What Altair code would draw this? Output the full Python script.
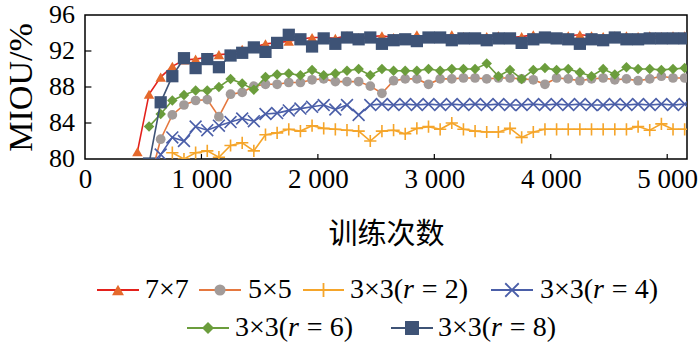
import altair as alt
import pandas as pd

# ---------------- data ----------------
iterations = [450, 550, 650, 750, 850, 950, 1050, 1150, 1250, 1350, 1450, 1550,
              1650, 1750, 1850, 1950, 2050, 2150, 2250, 2350, 2450, 2550, 2650, 2750,
              2850, 2950, 3050, 3150, 3250, 3350, 3450, 3550, 3650, 3750, 3850, 3950,
              4050, 4150, 4250, 4350, 4450, 4550, 4650, 4750, 4850, 4950, 5050, 5150]

s7x7 = [80.8, 87.2, 89.1, 90.3, 91.0, 91.1, 91.3, 91.6, 91.7, 92.2, 92.4, 92.8,
        92.9, 93.1, 93.3, 93.5, 93.5, 93.4, 93.7, 93.5, 93.6, 93.7, 93.5, 93.4,
        93.8, 93.4, 93.6, 93.8, 93.6, 93.5, 93.6, 93.7, 93.5, 93.6, 93.8, 93.6,
        93.5, 93.7, 93.8, 93.7, 93.6, 93.7, 93.7, 93.6, 93.7, 93.6, 93.7, 93.7]

s5x5 = [None, 77.3, 82.2, 84.9, 86.0, 86.5, 86.6, 84.7, 87.2, 87.4, 88.1, 88.3,
        88.3, 88.5, 88.5, 88.8, 88.9, 88.6, 88.6, 88.6, 88.1, 87.3, 88.7, 88.9,
        88.9, 88.3, 88.9, 88.9, 89.0, 89.0, 88.9, 89.0, 89.0, 88.9, 88.8, 88.3,
        89.0, 88.9, 88.7, 88.9, 89.0, 88.8, 88.9, 88.7, 88.9, 89.2, 89.0, 89.0]

s_r2 = [None, None, None, 80.7, 80.0, 80.7, 80.9, 80.2, 81.5, 81.8, 80.9, 82.7,
        82.9, 83.3, 83.1, 83.7, 83.4, 83.3, 83.2, 83.1, 82.0, 83.1, 83.2, 82.8,
        83.4, 83.6, 83.3, 84.0, 83.3, 83.1, 83.0, 83.0, 83.4, 82.4, 83.0, 83.3,
        83.3, 83.3, 83.3, 83.3, 83.3, 83.3, 83.3, 83.6, 83.2, 83.9, 83.3, 83.3]

s_r4 = [None, 77.0, 80.5, 82.4, 82.0, 83.6, 83.2, 83.7, 84.1, 84.5, 84.2, 85.0,
        85.1, 85.4, 85.6, 85.8, 86.0, 85.5, 86.0, 84.9, 86.0, 86.1, 86.0, 86.1,
        86.0, 86.1, 86.0, 86.1, 86.0, 86.1, 86.0, 86.1, 86.0, 86.0, 86.1, 86.0,
        86.1, 86.0, 86.1, 86.0, 86.0, 86.1, 86.0, 86.1, 86.0, 86.1, 86.0, 86.1]

s_r6 = [None, 83.6, 85.0, 86.5, 87.1, 87.6, 87.6, 88.0, 88.9, 88.4, 87.7, 89.1,
        89.4, 89.5, 89.3, 89.9, 89.3, 89.5, 89.8, 90.0, 89.3, 90.0, 89.8, 89.8,
        89.8, 90.0, 89.8, 90.0, 90.0, 90.0, 90.6, 89.2, 89.9, 88.9, 89.9, 90.1,
        89.9, 90.0, 89.6, 89.2, 90.0, 89.4, 90.2, 90.0, 90.0, 89.9, 90.0, 90.1]

s_r8 = [None, 79.5, 86.3, 89.2, 91.2, 90.1, 91.1, 90.2, 91.5, 91.8, 92.4, 91.9,
        92.9, 93.8, 93.3, 92.5, 93.4, 92.8, 93.5, 93.3, 93.5, 92.8, 93.2, 93.3,
        93.1, 93.5, 93.5, 93.2, 93.4, 93.4, 93.2, 93.4, 93.4, 92.9, 93.3, 93.5,
        93.4, 93.3, 92.8, 93.3, 93.2, 93.5, 93.3, 93.3, 93.4, 93.4, 93.4, 93.4]

names = ["7×7", "5×5", "3×3(r = 2)", "3×3(r = 4)", "3×3(r = 6)", "3×3(r = 8)"]
series = [s7x7, s5x5, s_r2, s_r4, s_r6, s_r8]
# legend label pieces (the r is set in italic, as in the original)
label_pre = ["7×7", "5×5", "3×3(", "3×3(", "3×3(", "3×3("]
label_it = ["", "", "r", "r", "r", "r"]
label_post = ["", "", "=\u00a02)", "=\u00a04)", "=\u00a06)", "=\u00a08)"]

x_ticks = [0, 1000, 2000, 3000, 4000, 5000]
y_ticks = [80, 84, 88, 92, 96]

# ---------------- styles ----------------
line_colors = ["#e3211c", "#e5783f", "#f5a52a", "#4a5ea8", "#6b9d3c", "#3e5376"]
marker_colors = ["#e5692c", "#a29b99", "#f5a52a", "#4a5ea8", "#6b9d3c", "#3e5376"]
shapes = ["triangle-up", "circle", "M-1,0H1M0,-1V1", "M-1,-1L1,1M-1,1L1,-1",
          "diamond", "square"]
filled = [True, True, False, False, True, True]
sizes = [110, 95, 150, 140, 110, 150]

# legend layout (pixel offsets relative to plot area origin)
leg_line_x1 = [12, 114, 218, 406, 102, 306]
leg_line_x2 = [54, 156, 259, 448, 144, 348]
leg_text_x = [60, 163, 265, 455, 150, 353]
leg_y = [275, 275, 275, 275, 313, 313]
LEG_FS = 28
PRE_W = 1.897 * LEG_FS   # advance of "3×3(" in a Times-metric font
IT_W = 0.389 * LEG_FS    # advance of italic "r"
SP_W = 0.28 * LEG_FS     # word space before "="

SERIF = "Liberation Serif"
CJK = "Noto Sans CJK SC"

X_MAX = 5170
xscale = alt.Scale(domain=[0, X_MAX], nice=False, zero=False)
yscale = alt.Scale(domain=[80, 96], nice=False, zero=False)

layers = []

# inner ticks
ytick_df = pd.DataFrame({"y": y_ticks[1:-1], "x0": [0] * 3, "x1": [55] * 3})
xtick_df = pd.DataFrame({"x": x_ticks[1:], "y0": [80] * 5, "y1": [80.55] * 5})
layers.append(
    alt.Chart(ytick_df).mark_rule(color="black", strokeWidth=1.2).encode(
        x=alt.X("x0:Q", scale=xscale,
                axis=alt.Axis(values=x_ticks, title="训练次数", labelOverlap=False,
                              labelExpr="replace(format(datum.value, ','), ',', ' ')")),
        x2="x1:Q",
        y=alt.Y("y:Q", scale=yscale,
                axis=alt.Axis(values=y_ticks, title="MIOU/%", labels=False)),
    )
)
layers.append(
    alt.Chart(xtick_df).mark_rule(color="black", strokeWidth=1.2).encode(
        x=alt.X("x:Q", scale=xscale),
        y=alt.Y("y0:Q", scale=yscale),
        y2="y1:Q",
    )
)
# y tick labels, placed through the y scale
ylab_df = pd.DataFrame({"v": y_ticks})
layers.append(
    alt.Chart(ylab_df).mark_text(align="right", baseline="middle", font=SERIF,
                                 fontSize=26, color="black", dx=-10).encode(
        x=alt.value(0),
        y=alt.Y("v:Q", scale=yscale),
        text="v:Q",
    )
)

for i, name in enumerate(names):
    df = pd.DataFrame({"iter": iterations, "miou": series[i]}).dropna()
    base = alt.Chart(df).encode(
        x=alt.X("iter:Q", scale=xscale),
        y=alt.Y("miou:Q", scale=yscale),
    )
    layers.append(base.mark_line(color=line_colors[i], strokeWidth=1.6, clip=True))
    layers.append(base.mark_point(shape=shapes[i], filled=filled[i],
                                  color=marker_colors[i], size=sizes[i],
                                  opacity=1, strokeWidth=1.6, clip=True))

# legend
leg_df = pd.DataFrame({"name": names, "pre": label_pre, "it": label_it, "post": label_post})
for i, name in enumerate(names):
    one = leg_df[leg_df["name"] == name]
    xm = (leg_line_x1[i] + leg_line_x2[i]) / 2
    layers.append(alt.Chart(one).mark_rule(color=line_colors[i], strokeWidth=1.8).encode(
        x=alt.value(leg_line_x1[i]), x2=alt.value(leg_line_x2[i]), y=alt.value(leg_y[i])))
    layers.append(alt.Chart(one).mark_point(shape=shapes[i], filled=filled[i],
                                            color=marker_colors[i], size=sizes[i] * 1.3,
                                            opacity=1, strokeWidth=1.8).encode(
        x=alt.value(xm), y=alt.value(leg_y[i])))
    layers.append(alt.Chart(one).mark_text(align="left", baseline="middle", font=SERIF,
                                           fontSize=LEG_FS, color="black").encode(
        x=alt.value(leg_text_x[i]), y=alt.value(leg_y[i]), text="pre:N"))
    if label_it[i]:
        layers.append(alt.Chart(one).mark_text(align="left", baseline="middle", font=SERIF,
                                               fontSize=LEG_FS, fontStyle="italic",
                                               color="black").encode(
            x=alt.value(leg_text_x[i] + PRE_W), y=alt.value(leg_y[i]), text="it:N"))
        layers.append(alt.Chart(one).mark_text(align="left", baseline="middle", font=SERIF,
                                               fontSize=LEG_FS, color="black").encode(
            x=alt.value(leg_text_x[i] + PRE_W + IT_W + SP_W), y=alt.value(leg_y[i]),
            text="post:N"))

chart = alt.layer(*layers).properties(
    width=602, height=144,
    autosize=alt.AutoSizeParams(type="none"),
    padding={"left": 85, "top": 15, "right": 13, "bottom": 192},
).configure_view(
    stroke="black", strokeWidth=1.5
).configure_axis(
    grid=False, ticks=False, domain=False, labelFlush=False, labelOverlap=False,
    labelFont=SERIF, labelFontSize=27, labelColor="black",
    titleColor="black", titleFontWeight="normal",
).configure_axisX(
    labelPadding=7, titleFont=CJK, titleFontSize=29, titlePadding=28,
).configure_axisY(
    titleFont=SERIF, titleFontSize=34, titlePadding=47,
)

chart.save("out.html", embed_options={"renderer": "svg", "actions": False})
